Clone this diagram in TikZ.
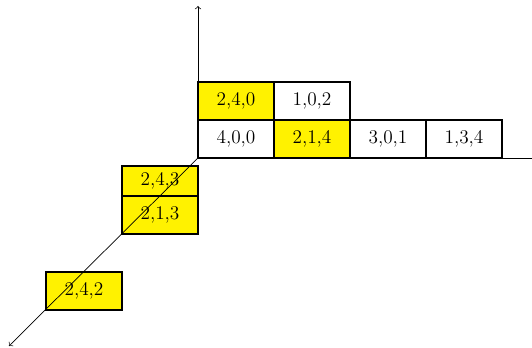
\documentclass[tikz,border=0pt]{standalone}
\usetikzlibrary{positioning}
\begin{document}
\begin{tikzpicture}[
                    cellnode/.style={rectangle, draw=black, line width=1pt, minimum width=15.2mm, minimum height=7.6mm, inner sep=0pt, outer sep=0pt, font=\fontsize{11}{13}\selectfont},
                    hitnode/.style={cellnode, fill=yellow}
                ]
                    \useasboundingbox (0,0) rectangle (10.64,6.96);
                    \coordinate (origin) at (3.96,3.80);
                    \coordinate (xend) at (10.9,3.80);
                    \coordinate (yend) at (3.96,6.84);
                    \coordinate (zend) at (0.18,0.04);
                    \draw[->] (origin) -- (xend);
                    \draw[->] (origin) -- (yend);
                    % bottom row
                    \node[cellnode, anchor=south west] (c400) at (origin) {4,0,0};
                    \node[hitnode] (c214) [right=0cm of c400] {2,1,4};
                    \node[cellnode] (c301) [right=0cm of c214] {3,0,1};
                    \node[cellnode] (c134) [right=0cm of c301] {1,3,4};
                    % top row
                    \node[hitnode] (c240) [above=0cm of c400] {2,4,0};
                    \node[cellnode] (c102) [right=0cm of c240] {1,0,2};
                    % diagonal
                    \node[hitnode, minimum height=6mm, anchor=north east] (c243) at (3.96,3.64) {2,4,3};
                    \node[hitnode] (c213) [below=0cm of c243] {2,1,3};
                    \node[hitnode, anchor=north east] (c242) at (2.44,1.52) {2,4,2};
                    \draw[->] (origin) -- (zend);
                \end{tikzpicture}
\end{document}
